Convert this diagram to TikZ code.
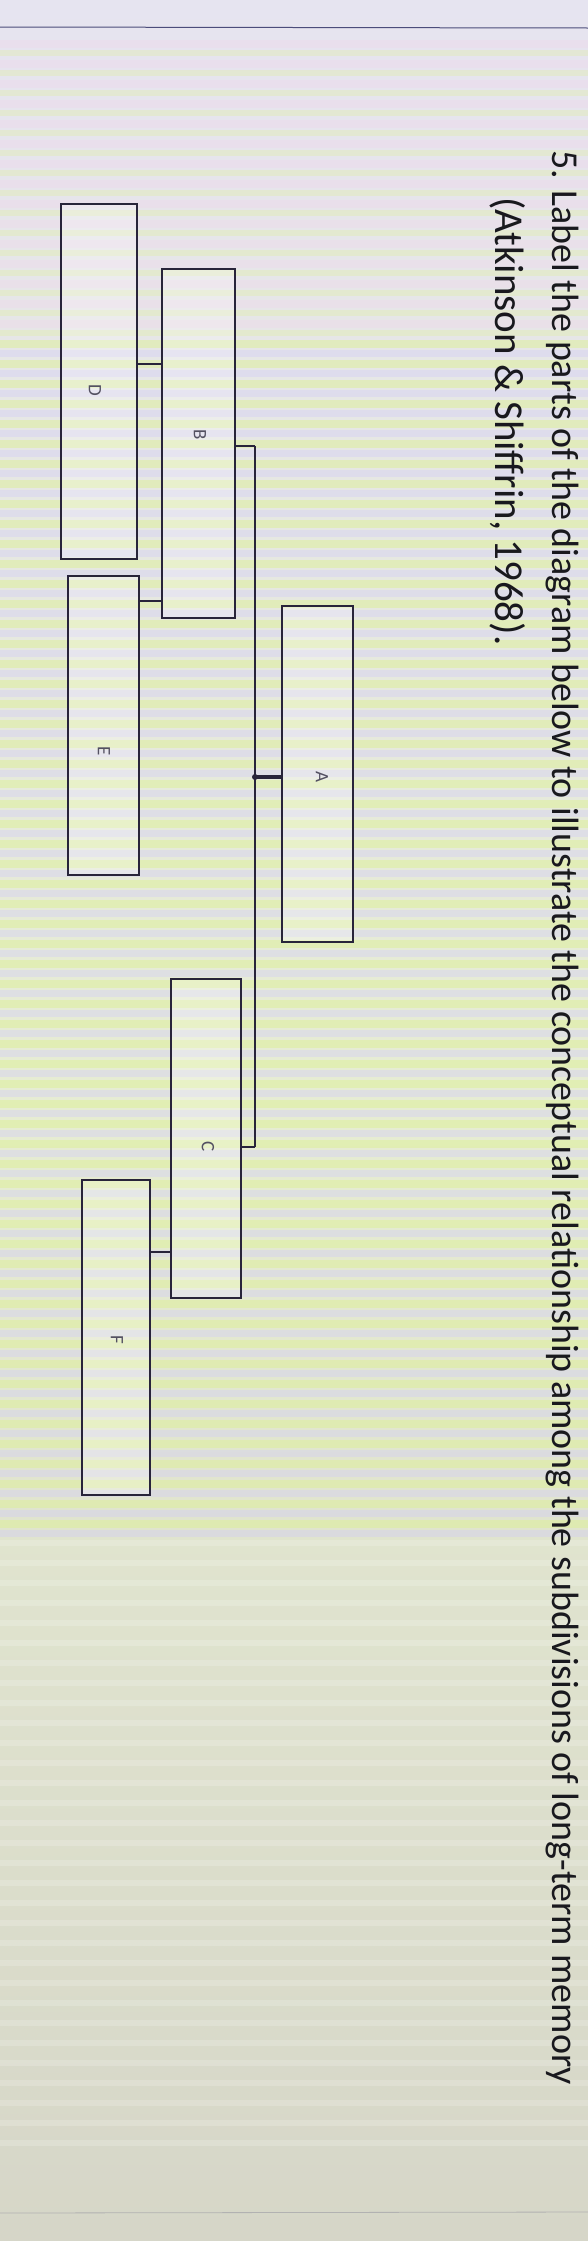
\documentclass[tikz,border=0pt]{standalone}
\usepackage{fontspec}
\setmainfont{Carlito}
\definecolor{ink}{RGB}{40,36,58}
\definecolor{txt}{RGB}{25,25,30}
\definecolor{bgtop}{RGB}{230,228,240}
\definecolor{bgmid}{RGB}{230,236,210}
\definecolor{bgbot}{RGB}{214,214,200}
\definecolor{stripeA}{RGB}{222,240,150}
\definecolor{stripeB}{RGB}{210,205,248}
\definecolor{stripeC}{RGB}{240,214,236}
\tikzset{
  box/.style={draw=ink, line width=1.8pt, fill=white, fill opacity=0.25, text opacity=1, inner sep=0pt},
  lbl/.style={rotate=-90, text=ink!80, font=\fontsize{19}{19}\selectfont, inner sep=0pt},
  link/.style={draw=ink, line width=1.4pt},
  hdr/.style={rotate=-90, anchor=base west, text=txt, inner sep=0pt}
}
\begin{document}
\begin{tikzpicture}[x=1pt, y=-1pt]
\useasboundingbox (0,0) rectangle (588,2241);
% background
\shade[top color=bgtop, bottom color=bgbot, middle color=bgmid] (0,0) rectangle (588,2241);
\foreach \i in {0,...,14} {
  \fill[stripeC, opacity=0.35] (0,{40+\i*20}) rectangle (588,{48+\i*20});
  \fill[stripeA, opacity=0.30] (0,{50+\i*20}) rectangle (588,{56+\i*20});
}
\foreach \i in {0,...,59} {
  \fill[stripeA, opacity=0.50] (0,{340+\i*20}) rectangle (588,{348+\i*20});
  \fill[stripeB, opacity=0.40] (0,{350+\i*20}) rectangle (588,{357+\i*20});
}
\foreach \i in {0,...,30} {
  \fill[white, opacity=0.18] (0,{1540+\i*20}) rectangle (588,{1546+\i*20});
}
% page rules
\draw[line width=1pt, color=black!55!blue!40!gray] (0,27) -- (588,28);
\draw[line width=0.8pt, color=gray!60] (0,2213) -- (588,2212);
% question text
\node[hdr, font=\fontsize{38}{44}\selectfont] (q1) at (552,150) {5. Label the parts of the diagram below to illustrate the conceptual relationship among the subdivisions of long-term memory};
\node[hdr, font=\fontsize{41}{46}\selectfont] (q2) at (495,197) {(Atkinson \& Shiffrin, 1968).};
% boxes
\node[box, minimum width=76pt, minimum height=355pt] (D) at (99,381.5) {};
\node[box, minimum width=73pt, minimum height=349pt] (B) at (198.5,443.5) {};
\node[box, minimum width=71pt, minimum height=299pt] (E) at (103.5,725.5) {};
\node[box, minimum width=71pt, minimum height=336pt] (A) at (317.5,774) {};
\node[box, minimum width=70pt, minimum height=319pt] (C) at (206,1138.5) {};
\node[box, minimum width=68pt, minimum height=315pt] (F) at (116,1337.5) {};
% labels
\node[lbl] (lD) at (95,390) {D};
\node[lbl] (lB) at (200,435) {B};
\node[lbl] (lE) at (104,751) {E};
\node[lbl] (lA) at (322,777) {A};
\node[lbl] (lC) at (208,1147) {C};
\node[lbl] (lF) at (117,1340) {F};
% junctions
\coordinate (jDB) at (0,364);
\coordinate (jEB) at (0,601);
\coordinate (jTop) at (255,446);
\coordinate (jA) at (255,777);
\coordinate (jBot) at (255,1147);
\coordinate (jFC) at (0,1252);
% connectors
\draw[link] (D.east |- jDB) -- (B.west |- jDB);
\draw[link] (E.east |- jEB) -- (B.west |- jEB);
\draw[link, line width=2.4pt] (B.east |- jTop) -- (jTop);
\draw[link] (jTop) -- (jBot);
\draw[link, line width=2.4pt] (jBot) -- (C.east |- jBot);
\draw[link, line width=3.6pt] (jA) -- (A.west |- jA);
\fill[ink] (jA) circle (3pt);
\draw[link] (F.east |- jFC) -- (C.west |- jFC);
\end{tikzpicture}
\end{document}
